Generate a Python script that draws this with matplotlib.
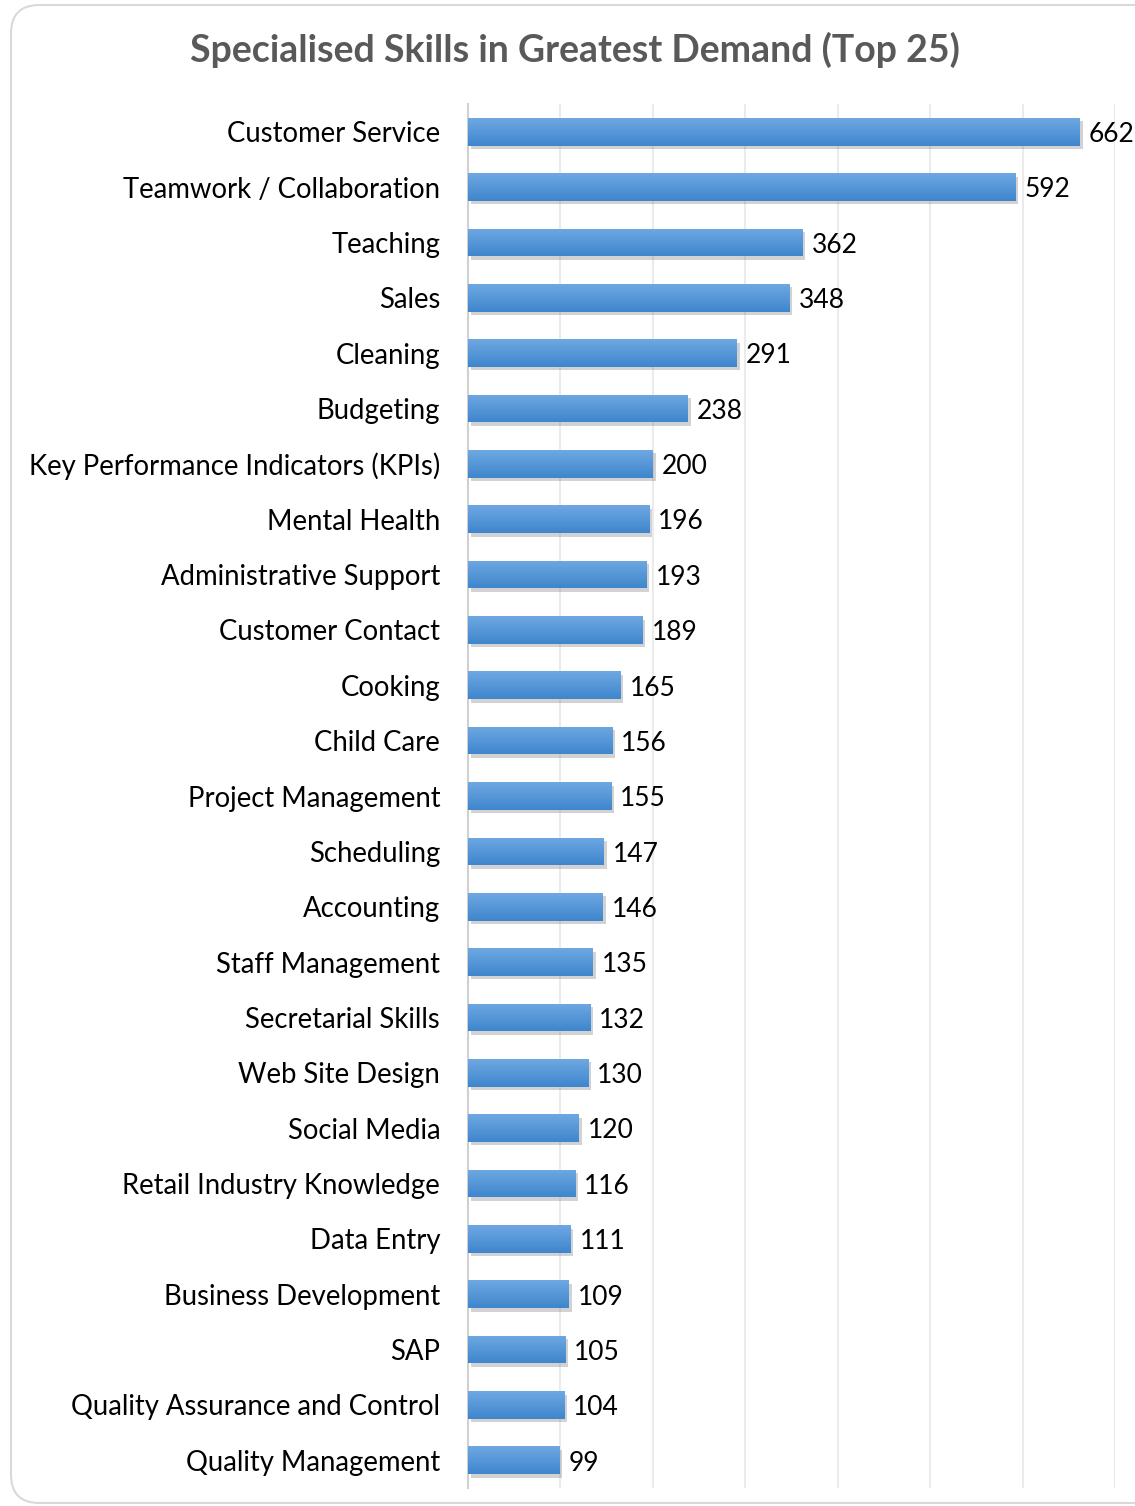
import matplotlib
matplotlib.use("Agg")
import matplotlib.pyplot as plt
import matplotlib.patheffects as pe
import numpy as np
from matplotlib.patches import FancyBboxPatch
from matplotlib.colors import LinearSegmentedColormap

skills = ["Customer Service", "Teamwork / Collaboration", "Teaching", "Sales", "Cleaning",
          "Budgeting", "Key Performance Indicators (KPIs)", "Mental Health",
          "Administrative Support", "Customer Contact", "Cooking", "Child Care",
          "Project Management", "Scheduling", "Accounting", "Staff Management",
          "Secretarial Skills", "Web Site Design", "Social Media",
          "Retail Industry Knowledge", "Data Entry", "Business Development", "SAP",
          "Quality Assurance and Control", "Quality Management"]
counts = [662, 592, 362, 348, 291, 238, 200, 196, 193, 189, 165, 156, 155, 147, 146,
          135, 132, 130, 120, 116, 111, 109, 105, 104, 99]
title = "Specialised Skills in Greatest Demand (Top 25)"

plt.rcParams['font.family'] = ['Lato', 'DejaVu Sans']

W, H = 1135, 1506
fig = plt.figure(figsize=(W/100, H/100), dpi=100)
fig.patch.set_facecolor('white')

# rounded border
border = FancyBboxPatch((11/W, 3/H), (W+40)/W, (H-8)/H,
                        boxstyle="round,pad=0,rounding_size=0.025",
                        transform=fig.transFigure, facecolor='none',
                        edgecolor='#D9D9D9', linewidth=1.5, mutation_aspect=W/H,
                        zorder=-1)
fig.patches.append(border)

left, right, top, bottom = 468, 1115, 104, 1488
ax = fig.add_axes([left/W, 1-bottom/H, (right-left)/W, (bottom-top)/H])
ax.set_facecolor('none')

bar_h = 0.5
y = list(range(len(skills)))
bars = ax.barh(y, counts, height=bar_h, color='#4F92D8', zorder=3)
for b in bars:
    b.set_path_effects([pe.SimplePatchShadow(offset=(2, -2.5), shadow_rgbFace='#606060', alpha=0.28),
                        pe.Normal()])

cmap = LinearSegmentedColormap.from_list('g', ['#6EA8E2', '#3F86CD'])
grad = np.linspace(0, 1, 64).reshape(-1, 1)
for b, yi, v in zip(bars, y, counts):
    im = ax.imshow(grad, extent=[0, v, yi + bar_h/2, yi - bar_h/2], cmap=cmap,
                   aspect='auto', origin='upper', zorder=3.5, interpolation='bilinear')
    im.set_clip_path(b)

ax.set_xlim(0, 700)
ax.set_ylim(len(skills)-0.5, -0.5)
ax.set_xticks(range(0, 701, 100))
ax.xaxis.grid(True, color='#EBEBEB', linewidth=1.5, zorder=0)
ax.set_axisbelow(True)
ax.tick_params(axis='x', length=0, labelbottom=False)
ax.tick_params(axis='y', length=0, pad=20)
ax.set_yticks(y)
ax.set_yticklabels(skills, fontsize=19.8, color='#000000')
for s in ['top', 'right', 'bottom']:
    ax.spines[s].set_visible(False)
ax.spines['left'].set_color('#D0D0D0')
ax.spines['left'].set_linewidth(1.5)

for yi, v in zip(y, counts):
    ax.annotate(str(v), (v, yi), xytext=(6.5, -2), textcoords='offset points',
                va='center', ha='left', fontsize=19, color='#000000', zorder=4)

fig.text(575/W, 1-50/H, title, ha='center', va='center', fontsize=27,
         fontweight='bold', color='#595959')

fig.savefig('out.png', dpi=100)
